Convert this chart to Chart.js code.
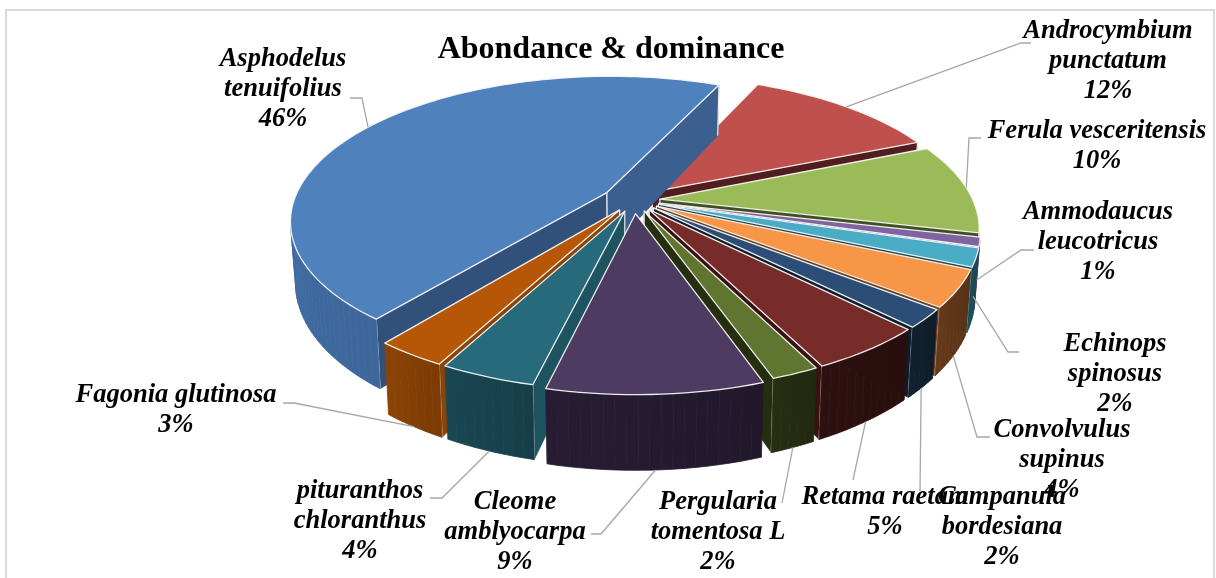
<!DOCTYPE html>
<html><head><meta charset="utf-8">
<script src="https://cdn.jsdelivr.net/npm/chart.js@4/dist/chart.umd.min.js"></script>
<style>html,body{margin:0;padding:0;background:#fff}canvas{display:block}</style>
</head><body><canvas id="c" width="1216" height="578"></canvas>
<script>
// ---- data ----
const categories = [
  ["Asphodelus","tenuifolius"],["Androcymbium","punctatum"],["Ferula vesceritensis"],
  ["Ammodaucus","leucotricus"],["Echinops","spinosus"],["Convolvulus","supinus"],
  ["Campanula","bordesiana"],["Retama raetam"],["Pergularia","tomentosa L"],
  ["Cleome","amblyocarpa"],["pituranthos","chloranthus"],["Fagonia glutinosa"]
];
const values = [46,12,10,1,2,4,2,5,2,9,4,3];
const explode = [32,26,26,26,26,26,26,26,26,30,26,26];
const topColors = ["#4F81BD","#C0504D","#9BBB59","#8064A2","#4BACC6","#F79646","#2C4D75","#772C2A","#5F7530","#4D3B62","#276A7C","#B65708"];
const rimColors = ["#3F6A9F","#5A1F1E","#3F5020","#4F3A68","#1D4C58","#65391A","#11202F","#2F1010","#262F12","#271C33","#1A4753","#8C4404"];
const wallColors = ["#31517B","#521D1D","#3F5020","#4F3A68","#1C4652","#6B4020","#0E1C2B","#3A1010","#252F10","#2C2140","#1E5360","#8C4404"];
const titleText = "Abondance & dominance";

// ---- layout of the drawing (not data) ----
const VIEW = {cx:634, cy:200, k:0.45, D:1656, h:60, taper:0.015};
const labelStyle = {font:'italic bold 26.5px "Liberation Serif"', line:30.3};
const labelBoxes = [
 {cx:283,y:59, lead:[[362,98],[350,98]], level:0},
 {cx:1108,y:31, lead:[[1021,43],[1031,43]], level:0},
 {cx:1097,y:131, lead:[[969,138],[981,138]], level:0},
 {cx:1098,y:212, lead:[[1021,250],[1034,250]], level:0.6},
 {cx:1115,y:344, lead:[[1008,352],[1019,352]], level:0.6},
 {cx:1062,y:430, lead:[[977,437],[990,437]], level:1},
 {cx:1002,y:497, lead:[[920,491]], level:1},
 {cx:885,y:497, lead:[[853,480]], level:1},
 {cx:718,y:502, lead:[[782,503]], level:1},
 {cx:515,y:502, lead:[[601,534],[591,534]], level:1},
 {cx:360,y:491, lead:[[442,498],[430,498]], level:1},
 {cx:176,y:395, lead:[[294,403],[283,403]], level:1}
];

function project(x0,y0,lvl){
  const s = 1/(1 - y0/VIEW.D);
  return [VIEW.cx + x0*s*(1-lvl*VIEW.taper), VIEW.cy + y0*VIEW.k*s + lvl*VIEW.h*s];
}
function geom(el){
  const p = el.getProps(['startAngle','endAngle','outerRadius']);
  const mid = (p.startAngle+p.endAngle)/2, off = el.options.offset||0;
  const ox = Math.cos(mid)*off, oy = Math.sin(mid)*off;
  const pts = [], n = Math.max(2,Math.ceil((p.endAngle-p.startAngle)/0.03));
  for(let i=0;i<=n;i++){
    const a = p.startAngle+(p.endAngle-p.startAngle)*i/n;
    pts.push([ox+Math.cos(a)*p.outerRadius, oy+Math.sin(a)*p.outerRadius]);
  }
  return {mid,ox,oy,pts,R:p.outerRadius};
}
function area(q){let s=0;for(let i=0;i<q.length;i++){const a=q[i],b=q[(i+1)%q.length];s+=a[0]*b[1]-b[0]*a[1];}return s/2;}
function poly(ctx,q){ctx.beginPath();q.forEach((p,i)=>i?ctx.lineTo(p[0],p[1]):ctx.moveTo(p[0],p[1]));ctx.closePath();}
function quad(a,b){return [project(a[0],a[1],0),project(b[0],b[1],0),project(b[0],b[1],1),project(a[0],a[1],1)];}
function shade(hex,f){const n=parseInt(hex.slice(1),16);return `rgb(${Math.min(255,(n>>16)*f)|0},${Math.min(255,((n>>8)&255)*f)|0},${Math.min(255,(n&255)*f)|0})`;}

const pie3d = {
  id:'pie3d',
  beforeDatasetDraw(){return false;},
  beforeDatasetsDraw(chart){
    const ctx = chart.ctx, arcs = chart.getDatasetMeta(0).data;
    ctx.save();
    ctx.strokeStyle='#D9D9D9';ctx.lineWidth=2;ctx.strokeRect(6,10,1208,600);
    const order = arcs.map((el,i)=>{const g=geom(el);
      return {i,g,z:g.oy+Math.sin(g.mid)*g.R*0.5};}).sort((a,b)=>a.z-b.z);
    ctx.lineJoin='round';
    const edge='rgba(245,245,245,0.95)';
    for(const {i,g} of order){
      const apex=[g.ox,g.oy], pts=g.pts, first=pts[0], last=pts[pts.length-1];
      // radial walls
      const walls=[quad(apex,first), quad(last,apex)];
      walls.forEach((w,wi)=>{
        if(area(w)<0){
          let col=wallColors[i];
          if(i===0 && wi===1) col='#3B5F8F';
          poly(ctx,w);ctx.fillStyle=col;ctx.fill();ctx.strokeStyle=col;ctx.lineWidth=0.6;ctx.stroke();
          ctx.strokeStyle=edge;ctx.lineWidth=1.2;
          ctx.beginPath();ctx.moveTo(w[0][0],w[0][1]);ctx.lineTo(w[3][0],w[3][1]);
          ctx.moveTo(w[1][0],w[1][1]);ctx.lineTo(w[2][0],w[2][1]);ctx.stroke();
        }
      });
      // rim
      const xs=pts.map(p=>project(p[0],p[1],0)[0]);
      const gr=ctx.createLinearGradient(Math.min(...xs),0,Math.max(...xs),0);
      gr.addColorStop(0,rimColors[i]);gr.addColorStop(1,shade(rimColors[i],0.88));
      ctx.fillStyle=gr;ctx.strokeStyle=gr;ctx.lineWidth=0.8;
      for(let j=0;j<pts.length-1;j++){
        const q=quad(pts[j],pts[j+1]);
        if(area(q)<0){poly(ctx,q);ctx.fill();ctx.stroke();}
      }
      // top face
      const face=[project(apex[0],apex[1],0),...pts.map(p=>project(p[0],p[1],0))];
      poly(ctx,face);ctx.fillStyle=topColors[i];ctx.fill();
      ctx.strokeStyle=edge;ctx.lineWidth=1.3;ctx.stroke();
    }
    ctx.restore();
  },
  afterDraw(chart){
    const ctx=chart.ctx, arcs=chart.getDatasetMeta(0).data;
    ctx.save();
    ctx.strokeStyle='#A6A6A6';ctx.lineWidth=1.3;
    labelBoxes.forEach((b,i)=>{
      const g=geom(arcs[i]);
      const x0=g.ox+Math.cos(g.mid)*g.R, y0=g.oy+Math.sin(g.mid)*g.R;
      const st=project(x0,y0,b.level);
      ctx.beginPath();ctx.moveTo(st[0],st[1]);b.lead.forEach(p=>ctx.lineTo(p[0],p[1]));ctx.stroke();
    });
    ctx.fillStyle='#000';ctx.font=labelStyle.font;ctx.textAlign='center';ctx.textBaseline='middle';
    labelBoxes.forEach((b,i)=>{
      const lines=[...categories[i],values[i]+'%'];
      lines.forEach((t,j)=>ctx.fillText(t,b.cx,b.y+j*labelStyle.line));
    });
    ctx.restore();
  }
};

new Chart(document.getElementById('c'),{
  type:'pie',
  data:{labels:categories,datasets:[{data:values,backgroundColor:topColors,offset:explode,borderWidth:0}]},
  options:{
    responsive:false,animation:false,rotation:218.5,radius:313,
    layout:{padding:{left:6,right:0,top:0,bottom:0}},
    plugins:{legend:{display:false},tooltip:{enabled:false},
      title:{display:true,text:titleText,color:'#000',font:{family:'"Liberation Serif"',size:32,weight:'bold'},padding:{top:31,bottom:0}}}
  },
  plugins:[pie3d,{id:'bg',beforeDraw(c){c.ctx.fillStyle='#fff';c.ctx.fillRect(0,0,c.width,c.height);}}]
});
</script></body></html>
